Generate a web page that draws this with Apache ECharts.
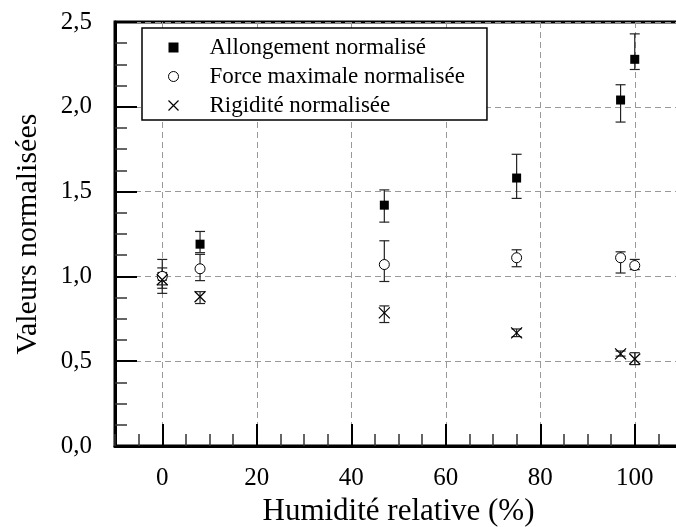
<!DOCTYPE html>
<html><head><meta charset="utf-8">
<script src="https://cdn.jsdelivr.net/npm/echarts@6/dist/echarts.min.js"></script>
<style>html,body{margin:0;padding:0;background:#fff}#c{width:676px;height:527px}</style>
</head><body><div id="c"></div>
<script>
// ---- data ----
const humidity = [0, 8, 47, 75, 97, 100];
const allongement     = [1.00, 1.19, 1.42, 1.58, 2.04, 2.28];
const allongementLow  = [0.90, 1.14, 1.32, 1.46, 1.91, 2.22];
const allongementHigh = [1.10, 1.265, 1.51, 1.72, 2.13, 2.43];
const force     = [1.00, 1.045, 1.07, 1.11, 1.11, 1.064];
const forceLow  = [0.95, 0.975, 0.97, 1.057, 1.02, 1.04];
const forceHigh = [1.05, 1.13, 1.21, 1.157, 1.145, 1.10];
const rigidite     = [0.98, 0.88, 0.785, 0.667, 0.543, 0.513];
const rigiditeLow  = [0.93, 0.84, 0.728, 0.645, 0.53, 0.48];
const rigiditeHigh = [1.02, 0.91, 0.826, 0.69, 0.56, 0.55];
const xMajorTicks = [0, 20, 40, 60, 80, 100];
const names = ['Allongement normalisé', 'Force maximale normalisée', 'Rigidité normalisée'];

const FONT = 'Liberation Serif';
const pts = (ys) => humidity.map((h, i) => [h, ys[i]]);
const errs = (lo, hi) => humidity.map((h, i) => [h, lo[i], hi[i]]);

function errorRender(params, api) {
  const x = api.value(0);
  const p1 = api.coord([x, api.value(1)]);
  const p2 = api.coord([x, api.value(2)]);
  const w = 5;
  const st = { stroke: '#222', lineWidth: 1.2 };
  return { type: 'group', children: [
    { type: 'line', shape: { x1: p1[0], y1: p1[1], x2: p2[0], y2: p2[1] }, style: st },
    { type: 'line', shape: { x1: p1[0]-w, y1: p1[1], x2: p1[0]+w, y2: p1[1] }, style: st },
    { type: 'line', shape: { x1: p2[0]-w, y1: p2[1], x2: p2[0]+w, y2: p2[1] }, style: st }
  ]};
}
const XPATH = 'path://M0,0L10,10M10,0L0,10';
const SQPATH = 'path://M0,0L10,0L10,10L0,10Z';

const chart = echarts.init(document.getElementById('c'), null, { renderer: 'canvas' });
chart.setOption({
  animation: false,
  backgroundColor: '#fff',
  textStyle: { fontFamily: FONT, color: '#000' },
  grid: { left: 115, right: -6, top: 22, bottom: 81, outerBoundsMode: 'none', containLabel: false,
    show: true, borderColor: '#000', borderWidth: 3, backgroundColor: 'transparent' },
  legend: {
    orient: 'vertical', left: 142, top: 28,
    padding: [8, 22, 3, 24],
    itemWidth: 62, itemHeight: 10, itemGap: 6, symbolKeepAspect: true,
    borderColor: '#000', borderWidth: 1.5, backgroundColor: '#fff',
    textStyle: { fontFamily: FONT, fontSize: 23, color: '#000', lineHeight: 23 },
    data: [
      { name: names[0], icon: SQPATH, itemStyle: { color: '#000', borderWidth: 0 } },
      { name: names[1], icon: 'circle', itemStyle: { color: '#fff', borderColor: '#000', borderWidth: 1 } },
      { name: names[2], icon: XPATH, itemStyle: { color: 'none', borderColor: '#000', borderWidth: 1.2 } }
    ]
  },
  xAxis: [
    { // minor ticks
      type: 'value', min: -10, max: 110, interval: 5, position: 'bottom',
      axisLine: { show: true, onZero: false, lineStyle: { color: '#000', width: 3 } },
      axisTick: { show: true, inside: true, length: 12, lineStyle: { color: '#333', width: 1.5 } },
      axisLabel: { show: false }, splitLine: { show: false }
    },
    { // major ticks, labels, grid lines
      type: 'value', min: -10, max: 110, position: 'bottom',
      name: 'Humidité relative (%)', nameLocation: 'middle', nameGap: 47,
      nameTextStyle: { fontFamily: FONT, fontSize: 31, color: '#000' },
      axisLine: { show: false, onZero: false },
      axisTick: { show: true, inside: true, length: 22, customValues: xMajorTicks, lineStyle: { color: '#000', width: 2 } },
      axisLabel: { show: true, customValues: xMajorTicks, margin: 20, fontFamily: FONT, fontSize: 25, color: '#000' },
      splitLine: { show: true, lineStyle: { color: '#999', type: [6, 4], width: 1 } }
    }
  ],
  yAxis: {
    type: 'value', min: 0, max: 2.5, interval: 0.5, position: 'left',
    name: 'Valeurs normalisées', nameLocation: 'middle', nameGap: 72,
    nameTextStyle: { fontFamily: FONT, fontSize: 30, color: '#000' },
    axisLine: { show: true, onZero: false, lineStyle: { color: '#000', width: 3 } },
    axisTick: { show: true, inside: true, length: 22, lineStyle: { color: '#000', width: 2 } },
    minorTick: { show: true, splitNumber: 4, length: 12, lineStyle: { color: '#333', width: 1.5 } },
    axisLabel: { margin: 23, fontFamily: FONT, fontSize: 25, color: '#000',
      formatter: v => v.toFixed(1).replace('.', ',') },
    splitLine: { show: true, lineStyle: { color: '#999', type: [6, 4], width: 1 } }
  },
  series: [
    { type: 'custom', xAxisIndex: 1, renderItem: errorRender, data: errs(allongementLow, allongementHigh), z: 2, silent: true },
    { type: 'custom', xAxisIndex: 1, renderItem: errorRender, data: errs(forceLow, forceHigh), z: 2, silent: true },
    { type: 'custom', xAxisIndex: 1, renderItem: errorRender, data: errs(rigiditeLow, rigiditeHigh), z: 2, silent: true },
    { name: names[0], type: 'scatter', xAxisIndex: 1, symbol: 'rect', symbolSize: 9, data: pts(allongement),
      itemStyle: { color: '#000', opacity: 1 }, z: 5 },
    { name: names[1], type: 'scatter', xAxisIndex: 1, symbol: 'circle', symbolSize: 10, data: pts(force),
      itemStyle: { color: '#fff', borderColor: '#000', borderWidth: 1, opacity: 1 }, z: 5 },
    { name: names[2], type: 'scatter', xAxisIndex: 1, symbol: XPATH, symbolSize: 11, data: pts(rigidite),
      itemStyle: { color: 'none', borderColor: '#000', borderWidth: 1.2, opacity: 1 }, z: 5 }
  ]
});
</script></body></html>
